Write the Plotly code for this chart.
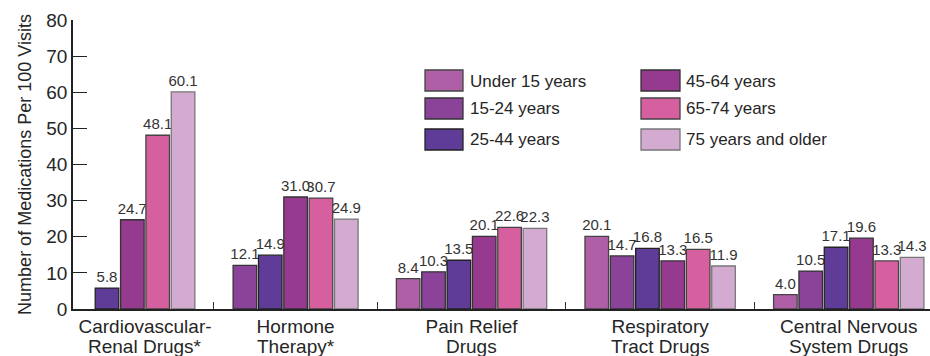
import plotly.graph_objects as go

# ---------------- data ----------------
categories = [
    "Cardiovascular-<br>Renal Drugs*",
    "Hormone<br>Therapy*",
    "Pain Relief<br>Drugs",
    "Respiratory<br>Tract Drugs",
    "Central Nervous<br>System Drugs",
]
age_groups = ["Under 15 years", "15-24 years", "25-44 years",
              "45-64 years", "65-74 years", "75 years and older"]

under_15 = [None, None, 8.4, 20.1, 4.0]
age_15_24 = [None, 12.1, 10.3, 14.7, 10.5]
age_25_44 = [5.8, 14.9, 13.5, 16.8, 17.1]
age_45_64 = [24.7, 31.0, 20.1, 13.3, 19.6]
age_65_74 = [48.1, 30.7, 22.6, 16.5, 13.3]
age_75_up = [60.1, 24.9, 22.3, 11.9, 14.3]

y_tick_values = [0, 10, 20, 30, 40, 50, 60, 70, 80]

# ---------------- styles ----------------
colors = ["#AE5FA6", "#8B4399", "#5F3C97", "#953A8F", "#D65F9F", "#D3AAD0"]
borders = ["#444444", "#333333", "#222222", "#333333", "#444444", "#777777"]
FONT = "Liberation Sans, Arial, sans-serif"
TXT = "#262626"

series = [under_15, age_15_24, age_25_44, age_45_64, age_65_74, age_75_up]

# bars of each category are packed next to each other; GAP = extra space between categories
GAP = 1.44
pos = {}
firsts, lasts, centers = [], [], []
k = 0
for c in range(len(categories)):
    xs = []
    for s in range(len(series)):
        if series[s][c] is not None:
            x = k + GAP * c
            pos[(s, c)] = x
            xs.append(x)
            k += 1
    firsts.append(xs[0])
    lasts.append(xs[-1])
    centers.append(sum(xs) / len(xs))
separators = [(lasts[c] + firsts[c + 1]) / 2 for c in range(len(categories) - 1)]

fig = go.Figure()
for s, (name, vals) in enumerate(zip(age_groups, series)):
    xs = [pos[(s, c)] for c in range(len(categories)) if vals[c] is not None]
    ys = [v for v in vals if v is not None]
    fig.add_trace(go.Bar(
        x=xs, y=ys, name=name, width=0.93,
        marker=dict(color=colors[s], line=dict(color=borders[s], width=1.3)),
        texttemplate="%{y:.1f}", textposition="outside",
        textfont=dict(size=15, color="#333333", family=FONT),
        constraintext="none", cliponaxis=False, showlegend=False,
    ))

# invisible helper trace on a twin x axis to carry the separator ticks
fig.add_trace(go.Scatter(x=[separators[0]], y=[0], xaxis="x2", mode="markers",
                         marker=dict(opacity=0), showlegend=False, hoverinfo="skip"))

# ---------------- manual legend (pixel -> paper) ----------------
L, R, T, B = 73, 0, 20, 47
W, H = 930, 356
PW, PH = W - L - R, H - T - B


def px(xp):
    return (xp - L) / PW


def py(yp):
    return (H - B - yp) / PH


legend_cols = [(425, 463, 468), (641, 680, 684)]
legend_rows = [(70, 91, 81), (98, 119, 108), (129, 150, 139)]
shapes = []
annotations = []
for i, name in enumerate(age_groups):
    col, row = divmod(i, 3)
    x0, x1, tx = legend_cols[col]
    y0, y1, ty = legend_rows[row]
    shapes.append(dict(type="rect", xref="paper", yref="paper",
                       x0=px(x0), x1=px(x1), y0=py(y1), y1=py(y0),
                       fillcolor=colors[i], line=dict(color=borders[i], width=1.3)))
    annotations.append(dict(text=name, xref="paper", yref="paper",
                            x=px(tx), y=py(ty), xanchor="left", yanchor="middle",
                            showarrow=False, font=dict(size=17, color=TXT, family=FONT)))

# category labels: first line as tick label, second line as annotation (tighter line spacing)
first_lines = [c.split("<br>")[0] for c in categories]
second_lines = [c.split("<br>")[1] for c in categories]
for xc, txt in zip(centers, second_lines):
    annotations.append(dict(text=txt, xref="x", yref="paper", x=xc, y=py(346),
                            xanchor="center", yanchor="middle", showarrow=False,
                            font=dict(size=19, color=TXT, family=FONT)))

X0 = -(107 - L) / 25.35
X1 = X0 + PW / 25.35

fig.update_layout(
    width=W, height=H,
    margin=dict(l=L, r=R, t=T, b=B),
    plot_bgcolor="white", paper_bgcolor="white",
    font=dict(family=FONT, color=TXT),
    barmode="overlay",
    shapes=shapes, annotations=annotations,
    xaxis=dict(
        range=[X0, X1], showgrid=False, zeroline=False, automargin=False,
        showline=True, linecolor="#222222", linewidth=1.5,
        tickmode="array", tickvals=centers, ticktext=first_lines,
        ticks="", tickfont=dict(size=19, color=TXT, family=FONT),
        ticklabelstandoff=-1,
    ),
    xaxis2=dict(
        range=[X0, X1], overlaying="x", side="bottom", anchor="y",
        showgrid=False, zeroline=False, showline=False, automargin=False,
        tickmode="array", tickvals=separators, showticklabels=False,
        ticks="inside", ticklen=7, tickwidth=1, tickcolor="#333333",
    ),
    yaxis=dict(
        range=[0, 80], showgrid=False, zeroline=False, automargin=False,
        showline=True, linecolor="#222222", linewidth=1.5,
        tickmode="array", tickvals=y_tick_values,
        ticks="inside", ticklen=14, tickwidth=1.3, tickcolor="#222222",
        tickfont=dict(size=19, color=TXT, family=FONT),
        title=dict(text="Number of Medications Per 100 Visits",
                   font=dict(size=18, color=TXT, family=FONT), standoff=10),
    ),
)

fig.write_html(
    "out.html",
    config={"displayModeBar": False},
    post_script="document.body.style.margin='0';document.body.style.overflow='hidden';",
)
